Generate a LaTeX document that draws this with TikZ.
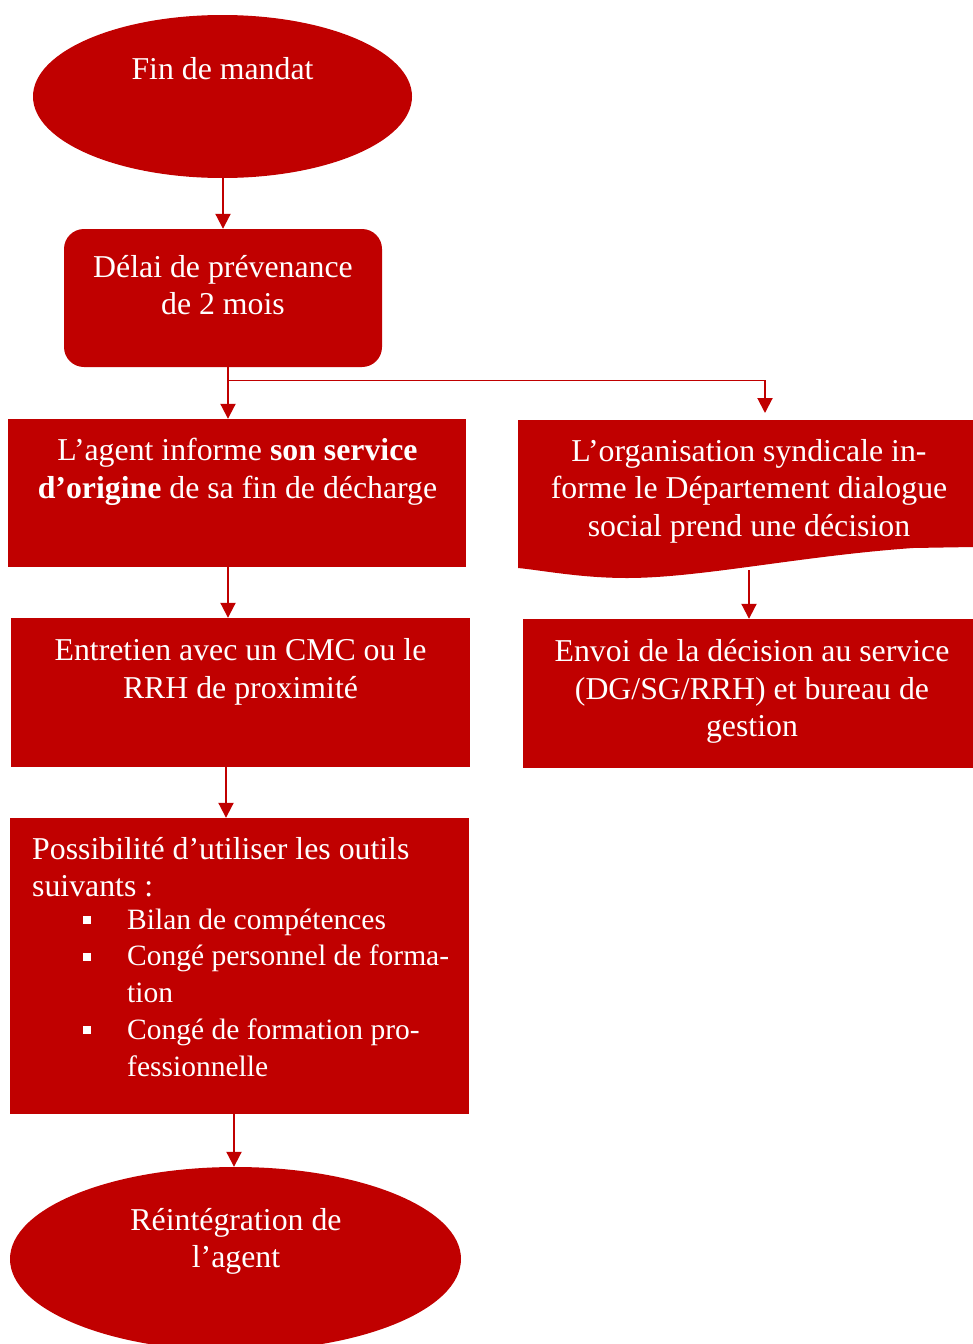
\documentclass[tikz,border=0pt]{standalone}
\usepackage{fontspec}
\setmainfont{Liberation Serif}
\usetikzlibrary{shapes.geometric,arrows.meta,calc}
\definecolor{rouge}{HTML}{C00000}
\newcommand\mylines[2][c]{\begin{tabular}[t]{@{}#1@{}}#2\end{tabular}}
\newcommand\mybul{\makebox[44pt][l]{\rule[5pt]{8pt}{8pt}}}
\begin{document}
\begin{tikzpicture}[x=1pt,y=-1pt,
  redshape/.style={fill=rouge,draw=none,inner sep=0pt},
  ell/.style={redshape,ellipse},
  boxr/.style={redshape,rectangle},
  txt/.style={text=white,anchor=base,inner sep=0pt,font=\fontsize{31.8}{37.5}\selectfont},
  listtxt/.style={text=white,anchor=base west,inner sep=0pt,font=\fontsize{31.8}{37}\selectfont},
  itemtxt/.style={text=white,anchor=base west,inner sep=0pt,font=\fontsize{29.5}{36.8}\selectfont},
  arr/.style={draw=rouge,line width=2pt,-{Triangle[width=15pt,length=15pt]}},
  thinline/.style={draw=rouge,line width=1pt}]
\useasboundingbox (0,0) rectangle (973,1344);

% shapes
\node[ell,minimum width=379pt,minimum height=163pt] (fin) at (222.5,96.5) {};
\node[boxr,rounded corners=20pt,minimum width=318pt,minimum height=138pt] (delai) at (223,298) {};
\node[boxr,minimum width=458pt,minimum height=148pt] (agent) at (237,493) {};
\node[boxr,minimum width=459pt,minimum height=149pt] (entretien) at (240.5,692.5) {};
\node[boxr,minimum width=450pt,minimum height=149pt] (envoi) at (748,693.5) {};
\node[boxr,minimum width=459pt,minimum height=296pt] (outils) at (239.5,966) {};
\node[ell,minimum width=451pt,minimum height=184pt] (reint) at (235.5,1259) {};
% document shape
\fill[rouge] (518,420) -- (973,420) -- (973,547) -- (913,548)
  .. controls (800,556) and (700,578) .. (627,578)
  .. controls (580,578) and (540,570) .. (518,568) -- cycle;
\coordinate (docN) at (765,420);
\coordinate (docS) at (749,570);

% texts
\node[txt] (finT) at (222.5,79) {Fin de mandat};
\node[txt] (delaiT) at (223,277) {\mylines{Délai de prévenance\\de 2 mois}};
\node[txt] (agentT) at (237.5,460.5) {\mylines{L’agent informe \textbf{son service}\\\textbf{d’origine} de sa fin de décharge}};
\node[txt] (entretienT) at (240.5,660.5) {\mylines{Entretien avec un CMC ou le\\RRH de proximité}};
\node[txt] (docT) at (749,461) {\mylines{L’organisation syndicale in-\\forme le Département dialogue\\social prend une décision}};
\node[txt] (envoiT) at (752,661.5) {\mylines{Envoi de la décision au service\\(DG/SG/RRH) et bureau de\\gestion}};
\node[listtxt] (outilsT) at (32,859) {\mylines[l]{Possibilité d’utiliser les outils\\suivants :}};
\node[itemtxt] (outilsL) at (83,929) {\mylines[l]{\mybul Bilan de compétences\\
\mybul Congé personnel de forma-\\
\hspace*{44pt}tion\\
\mybul Congé de formation pro-\\
\hspace*{44pt}fessionnelle}};
\node[txt] (reintT) at (236,1230) {\mylines{Réintégration de\\l’agent}};

% connectors
\coordinate (c223) at (223,0);
\coordinate (c228) at (228,0);
\coordinate (c226) at (226,0);
\coordinate (c234) at (234,0);
\coordinate (br1) at (228,380);
\coordinate (br2) at (765,380);
\draw[arr] (fin.south -| c223) -- (delai.north -| c223);
\draw[arr] (delai.south -| c228) -- (agent.north -| c228);
\draw[thinline] (br1) -- (br2);
\draw[arr,shorten >=7pt] (br2) -- (docN);
\draw[arr] (agent.south -| c228) -- (entretien.north -| c228);
\draw[arr] (docS) -- (envoi.north -| docS);
\draw[arr] (entretien.south -| c226) -- (outils.north -| c226);
\draw[arr] (outils.south -| c234) -- (reint.north -| c234);
\end{tikzpicture}
\end{document}
